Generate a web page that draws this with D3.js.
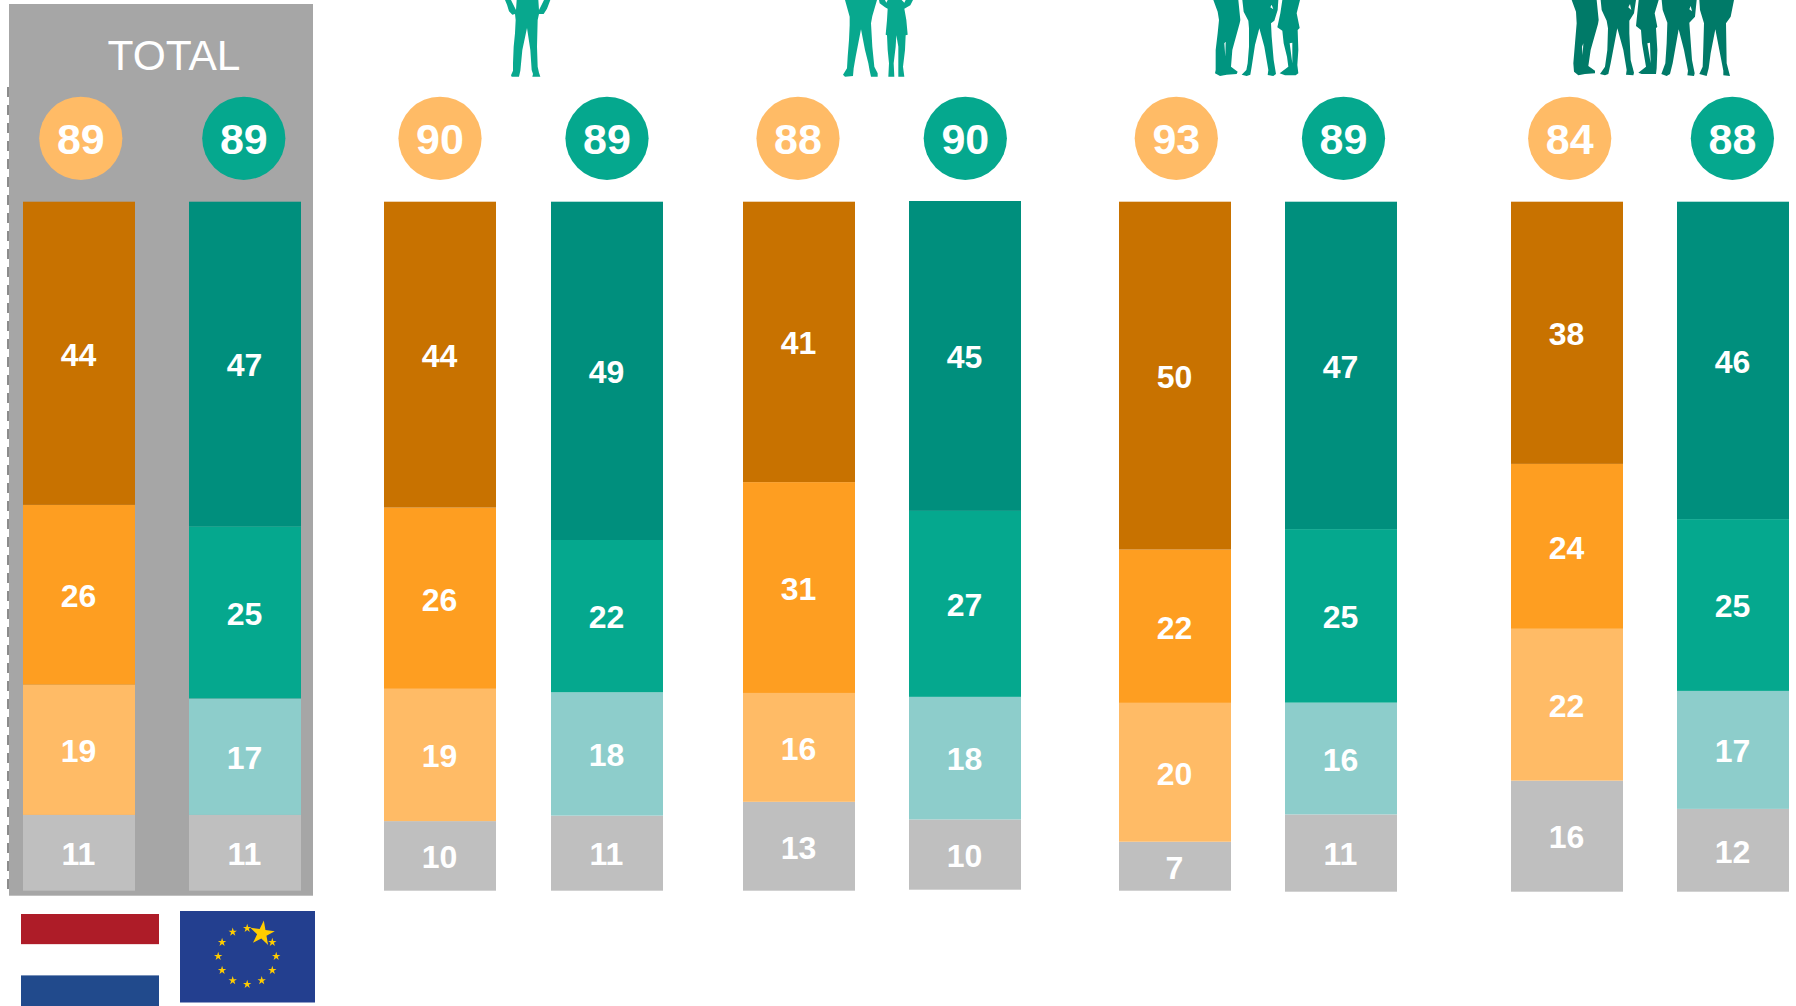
<!DOCTYPE html>
<html>
<head>
<meta charset="utf-8">
<script src="https://cdn.jsdelivr.net/npm/d3@7"></script>
<style>
html,body{margin:0;padding:0;background:#fff;overflow:hidden}
svg{display:block}
text{font-family:"Liberation Sans",Arial,sans-serif;fill:#fff;text-anchor:middle}
</style>
</head>
<body>
<script>
// ---- data ----
const bars = ["Total NL","Total EU","1 NL","1 EU","2 NL","2 EU","3 NL","3 EU","4+ NL","4+ EU"];
const sideOfBar = ["nl","eu","nl","eu","nl","eu","nl","eu","nl","eu"];
const headline = [89,89,90,89,88,90,93,89,84,88];
const topBand  = [44.0,47.1,44.4,49.1,40.7,45.0,50.49,47.45,38.0,46.0];
const midBand  = [26.1,25.0,26.3,22.1,30.6,27.0,22.25,25.15,23.9,24.9];
const lowBand  = [18.9,16.9,19.2,17.9,15.8,17.8,20.15,16.2,22.0,17.1];
const restBand = [11.0,11.0,10.1,10.9,12.9,10.2, 7.11,11.2,16.1,12.0];
const totalTitle = "TOTAL";

// ---- layout and style ----
const W = 1796, H = 1006;
const palette = {
  nl: {topBand:"#c87200", midBand:"#fe9e21", lowBand:"#ffbb66", restBand:"#bfbfbf", badge:"#ffbb66"},
  eu: {topBand:"#008f7d", midBand:"#05a88e", lowBand:"#8dcdcb", restBand:"#bfbfbf", badge:"#05a88e"}
};
const barLeft = d3.scaleOrdinal().domain(bars).range([23,189,384,551,743,909,1119,1285,1511,1677]);
const badgeX  = d3.scaleOrdinal().domain(bars).range([80.8,243.8,440,607,798,965.3,1176.3,1343.5,1569.7,1732.4]);
const barTop  = d3.scaleOrdinal().domain(bars).range([201.7,201.7,201.7,201.7,201.7,201,201.7,201.7,201.7,201.7]);
const barBot  = d3.scaleOrdinal().domain(bars).range([890.7,890.7,890.7,890.7,890.7,889.7,890.7,891.7,891.7,891.7]);
const barW = 112;

const svg = d3.select("body").append("svg").attr("width",W).attr("height",H).attr("viewBox",[0,0,W,H]);
svg.append("rect").attr("width",W).attr("height",H).attr("fill","#fff");

// grey panel behind TOTAL
svg.append("line").attr("x1",8.5).attr("x2",8.5).attr("y1",87).attr("y2",896)
  .attr("stroke","#8c8c8c").attr("stroke-width",3).attr("stroke-dasharray","10 8");
svg.append("rect").attr("x",9).attr("y",4).attr("width",304).attr("height",891.7).attr("fill","#a6a6a6");
svg.append("text").attr("x",174).attr("y",70).attr("font-size",42.5).text(totalTitle);

// stacked bars
const rows = bars.map((b,i)=>({bar:b,side:sideOfBar[i],topBand:topBand[i],midBand:midBand[i],lowBand:lowBand[i],restBand:restBand[i]}));
const keys = ["restBand","lowBand","midBand","topBand"];
const series = d3.stack().keys(keys).offset(d3.stackOffsetExpand)(rows);
const yFor = b => d3.scaleLinear().domain([0,1]).range([barBot(b),barTop(b)]);

const layers = svg.append("g").selectAll("g").data(series).join("g");
layers.selectAll("rect").data(s=>s.map(d=>({key:s.key,d}))).join("rect")
  .attr("x",o=>barLeft(o.d.data.bar)).attr("width",barW)
  .attr("y",o=>yFor(o.d.data.bar)(o.d[1]))
  .attr("height",o=>yFor(o.d.data.bar)(o.d[0])-yFor(o.d.data.bar)(o.d[1]))
  .attr("fill",o=>palette[o.d.data.side][o.key]);
layers.selectAll("text").data(s=>s.map(d=>({key:s.key,d}))).join("text")
  .attr("x",o=>barLeft(o.d.data.bar)+barW/2-0.5)
  .attr("y",o=>(yFor(o.d.data.bar)(o.d[0])+yFor(o.d.data.bar)(o.d[1]))/2+12.3)
  .attr("font-size",32).attr("font-weight",700)
  .text(o=>Math.round(o.d.data[o.key]));

// headline badges
const badges = svg.append("g").selectAll("g").data(bars).join("g")
  .attr("transform",b=>`translate(${badgeX(b)},138.3)`);
badges.append("circle").attr("r",41.6).attr("fill",(b,i)=>palette[sideOfBar[i]].badge);
badges.append("text").attr("y",15.5).attr("font-size",43).attr("font-weight",700).text((b,i)=>headline[i]);

// flags
const nlFlag = svg.append("g");
[["#ae1c28",914,30.4],["#fff",944.4,31],["#214a8c",975.4,31]].forEach(([c,y,h])=>{
  nlFlag.append("rect").attr("x",21).attr("y",y).attr("width",138).attr("height",h).attr("fill",c);
});
const euFlag = svg.append("g");
euFlag.append("rect").attr("x",180).attr("y",911).attr("width",135).attr("height",91.5).attr("fill","#233f8f");
const smallStar = d3.symbol().type(d3.symbolStar).size(22)();
const bigStar = d3.symbol().type(d3.symbolStar).size(190)();
d3.range(12).forEach(k=>{
  if(k===1){
    euFlag.append("path").attr("d",bigStar).attr("fill","#ffcc00").attr("transform","translate(262,933.5) rotate(8)");
  } else {
    const a = k*Math.PI/6;
    euFlag.append("path").attr("d",smallStar).attr("fill","#ffcc00")
      .attr("transform",`translate(${247.2+29*Math.sin(a)},${956.3-28*Math.cos(a)})`);
  }
});

// people silhouettes (outlines in zoom units, 3 per pixel)
function person(origin,color,pts,holes){
  const line = d3.line().curve(d3.curveLinear);
  let d = line(pts)+"Z";
  (holes||[]).forEach(h=>{d += line(h)+"Z";});
  svg.append("path").attr("d",d).attr("fill",color).attr("fill-rule","evenodd")
    .attr("transform",`translate(${origin},0) scale(${1/3})`);
}
const c1="#08a88e", c2="#009580", c3="#007a68";
// one person
person(495,c1,[[30,0],[36,14],[42,34],[52,44],[60,42],[62,60],[60,100],[56,140],[54,190],[54,212],[48,226],[50,230],[72,230],[76,212],[82,150],[96,84],[106,150],[110,210],[114,222],[112,230],[136,230],[132,218],[128,200],[126,140],[128,60],[132,42],[146,42],[156,26],[166,0],[147,0],[132,30],[130,0],[65,0],[63,30],[48,0]]);
// two people
person(835,c1,[[30,0],[44,50],[44,76],[42,120],[38,170],[36,205],[24,224],[30,230],[54,228],[56,205],[62,170],[78,88],[90,150],[100,190],[104,212],[108,230],[128,230],[128,220],[118,200],[112,140],[108,70],[112,48],[126,0]]);
person(835,c1,[[132,0],[134,10],[150,22],[158,26],[156,60],[152,104],[156,106],[158,150],[162,190],[160,230],[178,230],[176,190],[182,140],[184,106],[190,140],[190,190],[190,210],[190,230],[208,230],[204,200],[210,150],[212,106],[218,104],[214,60],[208,26],[226,16],[234,0],[212,0],[208,8],[200,0],[158,0],[154,8],[150,0]]);
// three people
person(1205,c2,[[25,0],[38,35],[42,60],[38,100],[32,150],[32,210],[30,220],[45,228],[65,224],[95,222],[98,215],[78,200],[82,150],[104,70],[106,60],[100,0]],[[[58,130],[62,125],[61,170]]]);
person(1205,c2,[[112,0],[116,35],[130,62],[132,85],[132,140],[128,190],[124,210],[110,224],[125,228],[136,224],[140,200],[150,135],[163,85],[178,140],[190,210],[188,225],[205,228],[213,222],[206,180],[200,110],[198,70],[208,62],[218,30],[220,0]],[[[196,22],[200,14],[205,28]]]);
person(1205,c2,[[232,0],[226,40],[217,82],[232,92],[236,130],[246,170],[250,200],[224,220],[240,226],[272,226],[280,220],[277,195],[280,150],[278,90],[284,84],[275,40],[285,0]],[[[254,130],[262,128],[262,190]]]);
// four or more people
person(1560,c3,[[35,0],[48,35],[50,70],[45,130],[40,190],[42,215],[55,226],[75,222],[105,220],[105,212],[85,198],[92,150],[114,72],[116,60],[110,0]],[[[66,140],[70,130],[68,165]]]);
person(1560,c3,[[122,0],[125,30],[140,62],[144,85],[142,150],[135,200],[120,222],[135,226],[145,222],[152,190],[172,85],[190,150],[200,210],[198,224],[220,226],[222,218],[212,180],[208,100],[208,62],[222,40],[228,0]],[[[205,22],[210,12],[214,30]]]);
person(1560,c3,[[236,0],[228,78],[243,90],[246,130],[258,200],[235,218],[245,222],[288,222],[290,205],[292,150],[288,85],[292,80],[284,40],[296,0]],[[[262,130],[270,128],[272,190]]]);
person(1560,c3,[[305,0],[308,30],[322,68],[320,130],[316,190],[304,222],[320,228],[330,222],[338,190],[356,88],[372,150],[384,212],[382,226],[402,228],[404,220],[396,180],[388,68],[405,50],[410,0]],[[[388,28],[392,18],[396,34]]]);
person(1560,c3,[[418,0],[420,30],[432,70],[430,140],[428,200],[418,222],[440,228],[446,205],[452,160],[466,88],[478,150],[490,212],[490,226],[510,228],[500,190],[498,70],[512,50],[522,0]]);
</script>
</body>
</html>
